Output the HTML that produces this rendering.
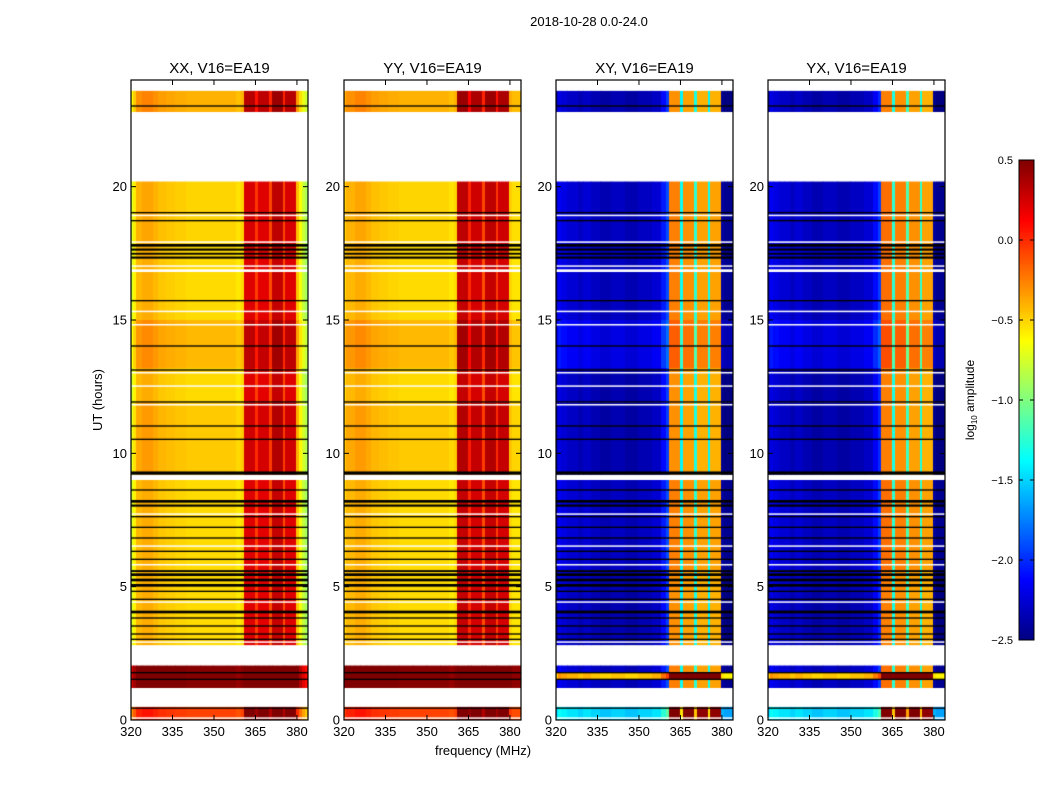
<!DOCTYPE html>
<html><head><meta charset="utf-8"><style>
html,body{margin:0;padding:0;background:#fff;}
body{width:1050px;height:800px;position:relative;overflow:hidden;font-family:"Liberation Sans","DejaVu Sans",sans-serif;}
canvas{position:absolute;}
svg{position:absolute;left:0;top:0;}
</style></head><body>
<canvas id="heat" width="1050" height="800" style="left:0;top:0"></canvas>
<svg id="ov" width="1050" height="800"></svg>
<script>
// ---- data ----
const panelTitles = ["XX, V16=EA19","YY, V16=EA19","XY, V16=EA19","YX, V16=EA19"];
const panelKind = ["par","par","cross","cross"];
const freqEdges = [320,321,322,324,326,328,330,333,336,340,345,350,355,358,360,361,365,366,370,371,375,376,380,381,382,383,384];
const specXX = [-0.75,-0.6,-0.42,-0.38,-0.38,-0.42,-0.46,-0.48,-0.5,-0.52,-0.52,-0.52,-0.52,-0.56,-0.52,0.22,-0.05,0.2,-0.1,0.3,-0.1,0.22,-0.45,-0.65,-0.8,-0.9];
const specYY = [-0.5,-0.42,-0.42,-0.38,-0.38,-0.42,-0.46,-0.48,-0.5,-0.52,-0.52,-0.52,-0.52,-0.56,-0.52,0.3,0.0,0.25,-0.1,0.3,-0.05,0.25,-0.5,-0.55,-0.55,-0.55];
const specXY = [-2.35,-2.2,-2.25,-2.3,-2.3,-2.35,-2.3,-2.35,-2.4,-2.35,-2.4,-2.35,-2.3,-2.1,-1.95,-0.3,-1.4,-0.35,-1.3,-0.4,-1.4,-0.4,-2.45,-2.5,-2.5,-2.5];
const specYX = [-2.35,-2.2,-2.25,-2.3,-2.3,-2.35,-2.3,-2.35,-2.4,-2.35,-2.4,-2.35,-2.3,-2.15,-2.0,-0.25,-1.3,-0.3,-1.2,-0.35,-1.3,-0.4,-2.45,-2.5,-2.5,-2.5];
const specs = [specXX,specYY,specXY,specYX];
// time blocks: start, end, offset parallel, offset cross
const blockStart = [0,1.2,1.5,1.8,2.8,5.6,9.2,11.9,13.2,15.0,17.9,22.8];
const blockEnd   = [0.5,1.5,1.8,2.05,5.6,9.0,11.9,13.2,15.0,17.9,20.2,23.6];
const offPar     = [0.45,1.0,1.0,1.0,0.0,0.0,0.05,0.0,0.1,0.0,0.02,0.12];
const offCross   = [0.85,0.05,1.9,0.05,0.0,0.05,0.0,0.0,0.15,0.05,0.05,0.0];
const blackStart = [0.42,3.0,3.2,3.5,3.8,4.0,4.5,4.8,5.0,5.2,5.4,5.55,6.0,6.3,6.8,7.2,7.6,8.0,8.15,8.6,9.2,10.5,11.0,11.9,13.1,14.0,15.7,17.3,17.45,17.6,17.75,18.7,19.0,23.0,1.5,1.75];
const blackEnd   = [0.47,3.05,3.25,3.55,3.85,4.1,4.55,4.85,5.1,5.3,5.5,5.62,6.05,6.35,6.85,7.25,7.65,8.08,8.25,8.65,9.32,10.55,11.05,11.95,13.15,14.05,15.75,17.38,17.52,17.68,17.85,18.75,19.05,23.05,1.55,1.8];
const whiteStart = [0.05,2.9,4.4,5.8,6.5,7.7,9.0,11.8,12.5,13.0,14.8,15.3,16.8,17.0,17.9,18.9,20.2,23.6,0.5,2.05];
const whiteEnd   = [0.1,2.95,4.45,5.85,6.55,7.75,9.15,11.85,12.55,13.05,14.85,15.35,16.9,17.05,17.95,18.95,22.8,24,1.2,2.8];
const yTicks = [0,5,10,15,20];
const xTicks = [320,335,350,365,380];
const cbTicks = [0.5,0.0,-0.5,-1.0,-1.5,-2.0,-2.5];

// ---- layout ----
const panelLeft = [131,344,556,768];
const PW=177, PT=80, PB=720, XMIN=320, XMAX=384, TMAX=24;
const vmin=-2.5, vmax=0.5;
function xs(p,f){return panelLeft[p]+(f-XMIN)/(XMAX-XMIN)*PW;}
function ys(t){return PB-(t/TMAX)*(PB-PT);}
function jet(v){
  let t=(v-vmin)/(vmax-vmin); t=Math.max(0,Math.min(1,t));
  function c(x){return Math.max(0,Math.min(1,x));}
  const r=c(1.5-Math.abs(4*t-3)), g=c(1.5-Math.abs(4*t-2)), b=c(1.5-Math.abs(4*t-1));
  return `rgb(${Math.round(r*255)},${Math.round(g*255)},${Math.round(b*255)})`;
}
const ctx=document.getElementById('heat').getContext('2d');
for(let p=0;p<4;p++){
  const spec=specs[p];
  for(let b=0;b<blockStart.length;b++){
    const off = panelKind[p]==='par'?offPar[b]:offCross[b];
    const y0=ys(blockEnd[b]), y1=ys(blockStart[b]);
    for(let c=0;c<spec.length;c++){
      ctx.fillStyle=jet(spec[c]+off);
      const x0=xs(p,freqEdges[c]), x1=xs(p,freqEdges[c+1]);
      ctx.fillRect(Math.floor(x0),y0,Math.ceil(x1)-Math.floor(x0),y1-y0);
    }
  }
  ctx.fillStyle='#fff';
  for(let i=0;i<whiteStart.length;i++){const y0=ys(whiteEnd[i]),y1=ys(whiteStart[i]);ctx.fillRect(panelLeft[p],y0,PW,Math.max(1.5,y1-y0));}
  ctx.fillStyle='#000';
  for(let i=0;i<blackStart.length;i++){const y0=ys(blackEnd[i]),y1=ys(blackStart[i]);ctx.fillRect(panelLeft[p],y0,PW,Math.max(1.2,y1-y0));}
}
// colorbar
const CBX=1019,CBW=15,CBT=160,CBB=640;
for(let y=CBT;y<CBB;y++){ctx.fillStyle=jet(vmax-(y-CBT)/(CBB-CBT)*(vmax-vmin));ctx.fillRect(CBX,y,CBW,1);}

// ---- overlay svg ----
const NS='http://www.w3.org/2000/svg', svg=document.getElementById('ov');
function mk(tag,attrs,text){const e=document.createElementNS(NS,tag);for(const k in attrs)e.setAttribute(k,attrs[k]);if(text!==undefined)e.textContent=text;svg.appendChild(e);return e;}
let e;
e=mk('text',{x:589,y:26,'text-anchor':'middle','font-size':13,fill:'#000'},'2018-10-28 0.0-24.0');


for(let p=0;p<4;p++){
  const L=panelLeft[p];
  e=mk('text',{x:L+PW/2,y:73,'text-anchor':'middle','font-size':15,fill:'#000'},panelTitles[p]);
  
  
  e=mk('rect',{x:L,y:PT,width:PW,height:PB-PT,fill:'none',stroke:'#000','stroke-width':1.2});
  
  
  for(const t of yTicks){
    const y=ys(t);
    mk('line',{x1:L,x2:L+5,y1:y,y2:y,stroke:'#000'});
    mk('line',{x1:L+PW-5,x2:L+PW,y1:y,y2:y,stroke:'#000'});
    e=mk('text',{x:L-4,y:y+4.5,'text-anchor':'end','font-size':13,fill:'#000'},String(t));
    
    
  }
  for(const f of xTicks){
    const x=xs(p,f);
    mk('line',{x1:x,x2:x,y1:PB,y2:PB-5,stroke:'#000'});
    mk('line',{x1:x,x2:x,y1:PT,y2:PT+5,stroke:'#000'});
    e=mk('text',{x:x,y:PB+16,'text-anchor':'middle','font-size':13,fill:'#000'},String(f));
    
    
  }
}
e=mk('text',{x:102,y:400,'text-anchor':'middle','font-size':13,fill:'#000',transform:'rotate(-90 102 400)'},'UT (hours)');


e=mk('text',{x:483,y:755,'text-anchor':'middle','font-size':13,fill:'#000'},'frequency (MHz)');


e=mk('rect',{x:CBX,y:CBT,width:CBW,height:CBB-CBT,fill:'none',stroke:'#000'});


for(const v of cbTicks){
  const y=CBT+(vmax-v)/(vmax-vmin)*(CBB-CBT);
  mk('line',{x1:CBX,x2:CBX+4,y1:y,y2:y,stroke:'#000'});
  mk('line',{x1:CBX+CBW-4,x2:CBX+CBW,y1:y,y2:y,stroke:'#000'});
  e=mk('text',{x:1013,y:y+4,'text-anchor':'end','font-size':11,fill:'#000'},(v<0?'\u2212':'')+Math.abs(v).toFixed(1));
  
  
}
e=mk('text',{x:974,y:400,'text-anchor':'middle','font-size':12,fill:'#000',transform:'rotate(-90 974 400)'});
e.innerHTML='log<tspan font-size="8" dy="3">10</tspan><tspan dy="-3"> amplitude</tspan>';


</script>
</body></html>
